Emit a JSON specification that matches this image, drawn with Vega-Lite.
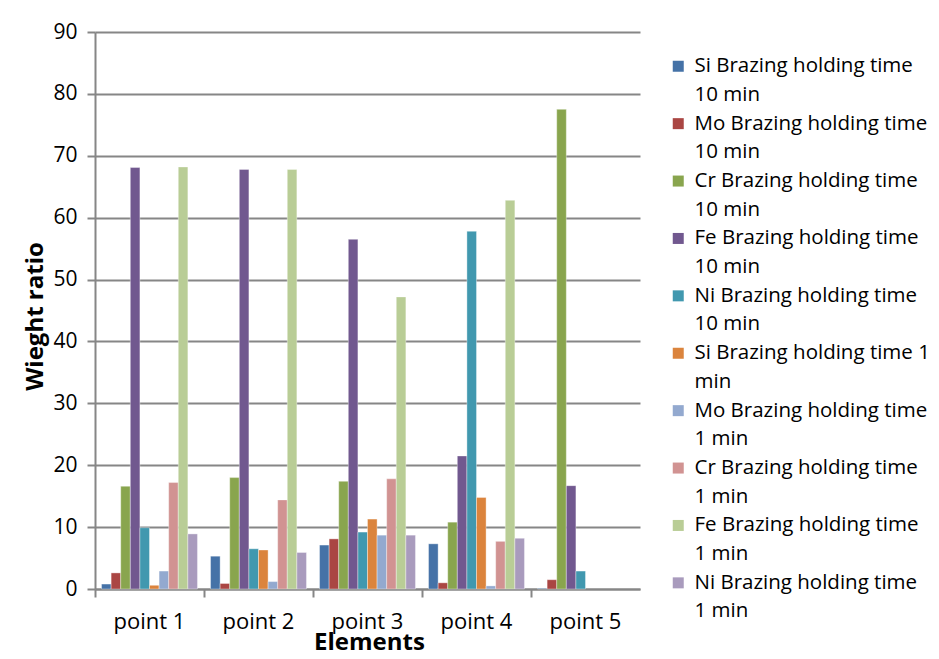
{
  "$schema": "https://vega.github.io/schema/vega-lite/v6.json",
  "width": 545,
  "height": 557,
  "autosize": {"type": "none"},
  "padding": {"left": 95, "top": 32, "right": 299, "bottom": 70},
  "background": "#ffffff",
  "config": {
    "font": "Open Sans",
    "view": {"stroke": null},
    "style": {"guide-label": {"lineHeight": 28.6}}
  },
  "data": {
    "values": [
      {"point": "point 1", "series": "Si Brazing holding time 10 min", "value": 0.8},
      {"point": "point 1", "series": "Mo Brazing holding time 10 min", "value": 2.6},
      {"point": "point 1", "series": "Cr Brazing holding time 10 min", "value": 16.6},
      {"point": "point 1", "series": "Fe Brazing holding time 10 min", "value": 68.1},
      {"point": "point 1", "series": "Ni Brazing holding time 10 min", "value": 9.9},
      {"point": "point 1", "series": "Si Brazing holding time 1 min", "value": 0.6},
      {"point": "point 1", "series": "Mo Brazing holding time 1 min", "value": 2.9},
      {"point": "point 1", "series": "Cr Brazing holding time 1 min", "value": 17.2},
      {"point": "point 1", "series": "Fe Brazing holding time 1 min", "value": 68.2},
      {"point": "point 1", "series": "Ni Brazing holding time 1 min", "value": 8.9},
      {"point": "point 2", "series": "Si Brazing holding time 10 min", "value": 5.3},
      {"point": "point 2", "series": "Mo Brazing holding time 10 min", "value": 0.9},
      {"point": "point 2", "series": "Cr Brazing holding time 10 min", "value": 18.0},
      {"point": "point 2", "series": "Fe Brazing holding time 10 min", "value": 67.8},
      {"point": "point 2", "series": "Ni Brazing holding time 10 min", "value": 6.5},
      {"point": "point 2", "series": "Si Brazing holding time 1 min", "value": 6.3},
      {"point": "point 2", "series": "Mo Brazing holding time 1 min", "value": 1.2},
      {"point": "point 2", "series": "Cr Brazing holding time 1 min", "value": 14.4},
      {"point": "point 2", "series": "Fe Brazing holding time 1 min", "value": 67.8},
      {"point": "point 2", "series": "Ni Brazing holding time 1 min", "value": 5.9},
      {"point": "point 3", "series": "Si Brazing holding time 10 min", "value": 7.1},
      {"point": "point 3", "series": "Mo Brazing holding time 10 min", "value": 8.1},
      {"point": "point 3", "series": "Cr Brazing holding time 10 min", "value": 17.4},
      {"point": "point 3", "series": "Fe Brazing holding time 10 min", "value": 56.5},
      {"point": "point 3", "series": "Ni Brazing holding time 10 min", "value": 9.2},
      {"point": "point 3", "series": "Si Brazing holding time 1 min", "value": 11.3},
      {"point": "point 3", "series": "Mo Brazing holding time 1 min", "value": 8.7},
      {"point": "point 3", "series": "Cr Brazing holding time 1 min", "value": 17.8},
      {"point": "point 3", "series": "Fe Brazing holding time 1 min", "value": 47.2},
      {"point": "point 3", "series": "Ni Brazing holding time 1 min", "value": 8.7},
      {"point": "point 4", "series": "Si Brazing holding time 10 min", "value": 7.3},
      {"point": "point 4", "series": "Mo Brazing holding time 10 min", "value": 1.0},
      {"point": "point 4", "series": "Cr Brazing holding time 10 min", "value": 10.8},
      {"point": "point 4", "series": "Fe Brazing holding time 10 min", "value": 21.5},
      {"point": "point 4", "series": "Ni Brazing holding time 10 min", "value": 57.8},
      {"point": "point 4", "series": "Si Brazing holding time 1 min", "value": 14.8},
      {"point": "point 4", "series": "Mo Brazing holding time 1 min", "value": 0.5},
      {"point": "point 4", "series": "Cr Brazing holding time 1 min", "value": 7.7},
      {"point": "point 4", "series": "Fe Brazing holding time 1 min", "value": 62.8},
      {"point": "point 4", "series": "Ni Brazing holding time 1 min", "value": 8.2},
      {"point": "point 5", "series": "Si Brazing holding time 10 min", "value": 0.1},
      {"point": "point 5", "series": "Mo Brazing holding time 10 min", "value": 1.5},
      {"point": "point 5", "series": "Cr Brazing holding time 10 min", "value": 77.5},
      {"point": "point 5", "series": "Fe Brazing holding time 10 min", "value": 16.7},
      {"point": "point 5", "series": "Ni Brazing holding time 10 min", "value": 2.9}
    ]
  },
  "mark": {"type": "bar", "stroke": "#ffffff", "strokeWidth": 0.6, "strokeOpacity": 0.6},
  "encoding": {
    "x": {
      "field": "point",
      "type": "nominal",
      "scale": {"paddingInner": 0.12, "paddingOuter": 0.06},
      "axis": {
        "title": "Elements",
        "titleFontSize": 24,
        "titleFontWeight": "bold",
        "titleColor": "#000000",
        "titleX": 274,
        "titleY": 53,
        "titleAlign": "center",
        "titleBaseline": "middle",
        "labelAngle": 0,
        "labelFontSize": 22,
        "labelColor": "#000000",
        "labelPadding": 14,
        "bandPosition": -0.068,
        "tickSize": 8,
        "tickColor": "#868686",
        "tickWidth": 2,
        "domainColor": "#868686",
        "domainWidth": 2,
        "grid": false
      }
    },
    "xOffset": {
      "field": "series",
      "type": "nominal",
      "sort": null,
      "scale": {
        "domain": [
          "Si Brazing holding time 10 min",
          "Mo Brazing holding time 10 min",
          "Cr Brazing holding time 10 min",
          "Fe Brazing holding time 10 min",
          "Ni Brazing holding time 10 min",
          "Si Brazing holding time 1 min",
          "Mo Brazing holding time 1 min",
          "Cr Brazing holding time 1 min",
          "Fe Brazing holding time 1 min",
          "Ni Brazing holding time 1 min"
        ],
        "paddingInner": 0,
        "paddingOuter": 0
      }
    },
    "y": {
      "field": "value",
      "type": "quantitative",
      "scale": {"domain": [0, 90], "nice": false},
      "axis": {
        "title": "Wieght ratio",
        "titleFontSize": 24,
        "titleFontWeight": "bold",
        "titleColor": "#000000",
        "titleX": -60,
        "titleY": 284,
        "titleAngle": 270,
        "titleAlign": "center",
        "titleBaseline": "middle",
        "values": [0, 10, 20, 30, 40, 50, 60, 70, 80, 90],
        "labelFontSize": 21,
        "labelColor": "#000000",
        "labelPadding": 10,
        "tickSize": 8,
        "tickColor": "#868686",
        "tickWidth": 2,
        "domainColor": "#868686",
        "domainWidth": 2,
        "gridColor": "#868686",
        "gridWidth": 2
      }
    },
    "color": {
      "field": "series",
      "type": "nominal",
      "scale": {
        "domain": [
          "Si Brazing holding time 10 min",
          "Mo Brazing holding time 10 min",
          "Cr Brazing holding time 10 min",
          "Fe Brazing holding time 10 min",
          "Ni Brazing holding time 10 min",
          "Si Brazing holding time 1 min",
          "Mo Brazing holding time 1 min",
          "Cr Brazing holding time 1 min",
          "Fe Brazing holding time 1 min",
          "Ni Brazing holding time 1 min"
        ],
        "range": ["#4572A7", "#AA4643", "#89A54E", "#71588F", "#4198AF", "#DB843D", "#93A9CF", "#D19392", "#B9CD96", "#A99BBD"]
      },
      "legend": {
        "title": null,
        "orient": "none",
        "legendX": 573,
        "legendY": 24,
        "symbolType": "square",
        "symbolSize": 121,
        "symbolStrokeWidth": 0,
        "labelFontSize": 20.5,
        "labelColor": "#000000",
        "labelLimit": 400,
        "labelOffset": 6,
        "labelBaseline": "middle",
        "rowPadding": 7.4,
        "labelExpr": "datum.label == 'Si Brazing holding time 1 min' ? ['Si Brazing holding time 1', 'min'] : [slice(datum.label, 0, indexof(datum.label, ' time') + 5), slice(datum.label, indexof(datum.label, ' time') + 6)]"
      }
    }
  }
}
